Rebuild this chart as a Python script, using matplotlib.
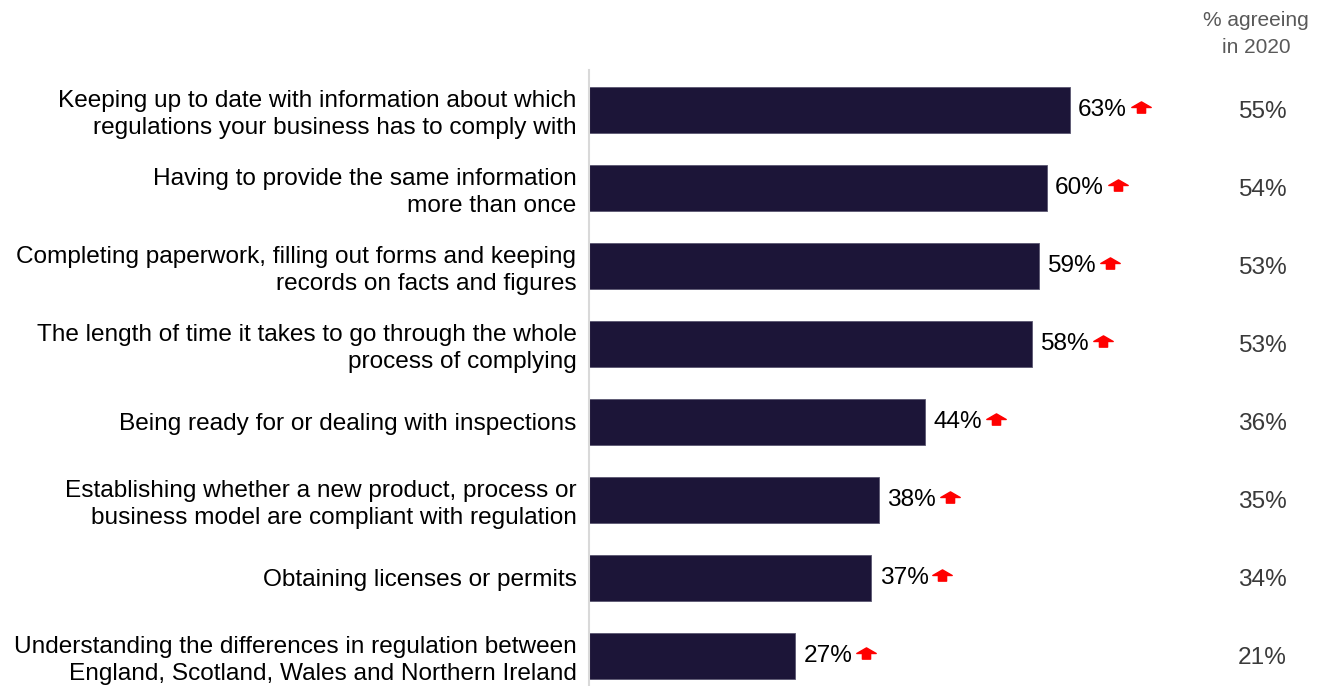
import matplotlib
matplotlib.use("Agg")
import matplotlib.pyplot as plt
from matplotlib.path import Path
from matplotlib.transforms import offset_copy

plt.rcParams['font.family'] = ['Liberation Sans', 'DejaVu Sans']

categories = [
    "Keeping up to date with information about which\nregulations your business has to comply with",
    "Having to provide the same information\nmore than once",
    "Completing paperwork, filling out forms and keeping\nrecords on facts and figures",
    "The length of time it takes to go through the whole\nprocess of complying",
    "Being ready for or dealing with inspections",
    "Establishing whether a new product, process or\nbusiness model are compliant with regulation",
    "Obtaining licenses or permits",
    "Understanding the differences in regulation between\nEngland, Scotland, Wales and Northern Ireland",
]
values_current = [63, 60, 59, 58, 44, 38, 37, 27]
values_2020 = [55, 54, 53, 53, 36, 35, 34, 21]
header_2020 = "% agreeing\nin 2020"

BAR_COLOR = "#1c1538"
ARROW_COLOR = "#ff0000"
FS = 17.6

# Up-arrow marker: wide triangular head on a narrow stem
arrow_path = Path(
    [(0, 5.5), (9.5, 0), (4, 0), (4, -5.5), (-4, -5.5), (-4, 0), (-9.5, 0), (0, 5.5)],
    [Path.MOVETO] + [Path.LINETO] * 6 + [Path.CLOSEPOLY],
)

W, H = 1324, 686
fig = plt.figure(figsize=(W / 100, H / 100), dpi=100)
ax_left, ax_right = 589, 1324
ax_top, ax_bottom = 70, 686
ax = fig.add_axes([ax_left / W, 1 - ax_bottom / H, (ax_right - ax_left) / W, (ax_bottom - ax_top) / H])

px_per_pct = 7.63
n = len(categories)
ypos = list(range(n))
ax.barh(ypos, values_current, height=0.59, color=BAR_COLOR, edgecolor="#5a5670", linewidth=0.6)

ax.set_xlim(0, (ax_right - ax_left) / px_per_pct)
ax.set_ylim(n - 1 + 30 / 78, -40 / 78)

ax.set_yticks(ypos)
ax.set_yticklabels(categories, fontsize=FS, color="#000000", linespacing=1.27)
ax.tick_params(axis="y", length=0, pad=9)
ax.tick_params(axis="x", length=0, labelbottom=False)
for s in ("top", "right", "bottom"):
    ax.spines[s].set_visible(False)
ax.spines["left"].set_color("#d9d9d9")
ax.spines["left"].set_linewidth(1.5)

for y, v in zip(ypos, values_current):
    ax.annotate(f"{v}%", (v, y), xytext=(6, 0), textcoords="offset points",
                ha="left", va="center", fontsize=FS, color="#000000")
    tr = offset_copy(ax.transData, fig=fig, x=71, y=3, units="dots")
    ax.plot([v], [y], marker=arrow_path, markersize=14, color=ARROW_COLOR,
            transform=tr, clip_on=False, linestyle="none")

# 2020 comparison column
col_x = 1287 / W
for y, v in zip(ypos, values_2020):
    fy = 1 - (ax_top + 42 + 78 * y) / H
    fig.text(col_x, fy, f"{v}%", ha="right", va="center", fontsize=FS, color="#3a3a3a")
fig.text(1256 / W, 1 - 34 / H, header_2020, ha="center", va="center",
         fontsize=15, color="#595959", linespacing=1.5)

fig.savefig("out.png", dpi=100)
